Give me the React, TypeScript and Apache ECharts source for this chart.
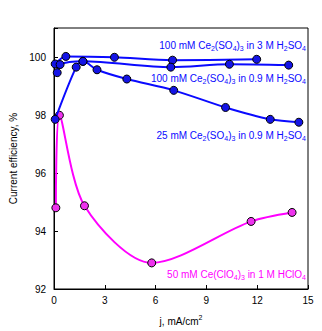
import React, { useEffect, useRef } from "react";
import * as echarts from "echarts";

const xTicks = [0, 3, 6, 9, 12, 15];
const yTicks = [92, 94, 96, 98, 100];

// 100 mM Ce2(SO4)3 in 3 M H2SO4
const s1X = [0.07, 0.7, 3.57, 7.0, 11.97];
const s1Y = [99.76, 100.02, 99.99, 99.89, 99.92];

// 100 mM Ce2(SO4)3 in 0.9 M H2SO4
const s2X = [0.19, 0.36, 1.71, 6.9, 10.36, 13.86];
const s2Y = [99.46, 99.74, 99.85, 99.65, 99.75, 99.72];

// 25 mM Ce2(SO4)3 in 0.9 M H2SO4
const s3X = [0.07, 1.31, 1.71, 2.54, 4.3, 7.07, 10.13, 12.77, 14.46];
const s3Y = [97.85, 99.65, 99.85, 99.56, 99.24, 98.85, 98.26, 97.85, 97.75];

// 50 mM Ce(ClO4)3 in 1 M HClO4
const s4X = [0.11, 0.32, 1.8, 5.77, 11.64, 14.06];
const s4Y = [94.8, 97.99, 94.87, 92.9, 94.33, 94.64];

const BLUE = "#0a0aff";
const PINK = "#ff00ff";
const FONT = "Liberation Sans, Arial, sans-serif";

const zip = (xs: number[], ys: number[]) => xs.map((x, i) => [x, ys[i]]);

export default function App() {
  const ref = useRef<HTMLDivElement>(null);
  useEffect(() => {
    document.body.style.margin = "0";
    const chart = echarts.init(ref.current!, null, { renderer: "svg" });
    const mkLine = (name: string, xs: number[], ys: number[], color: string, fill: string) => ({
      type: "line",
      name,
      data: zip(xs, ys),
      smooth: 0.3,
      symbol: "circle",
      symbolSize: 8,
      lineStyle: { color, width: 2 },
      itemStyle: { color: fill, borderColor: "#000", borderWidth: 1 },
      z: color === PINK ? 2 : 3,
    });
    const label = (y: number, text: string, color: string) => ({
      type: "text",
      right: 16,
      top: y,
      style: {
        text,
        fill: color,
        rich: {
          n: { fontSize: 10, lineHeight: 14, fontFamily: FONT, fill: color },
          s: { fontSize: 7, lineHeight: 14, verticalAlign: "bottom", fontFamily: FONT, fill: color },
        },
      },
      z: 10,
    });
    chart.setOption({
      animation: false,
      grid: { left: 42, right: 14, top: 28, bottom: 37, show: true, borderColor: "#000", borderWidth: 1 },
      xAxis: {
        type: "value",
        min: xTicks[0],
        max: xTicks[xTicks.length - 1],
        interval: 3,
        name: "{n|j, mA/cm}{sup|2}",
        nameLocation: "middle",
        nameGap: 25,
        nameTextStyle: {
          color: "#000",
          rich: {
            n: { fontSize: 10, fontFamily: FONT, color: "#000", lineHeight: 14 },
            sup: { fontSize: 7, fontFamily: FONT, color: "#000", verticalAlign: "top", lineHeight: 14 },
          },
        },
        axisLine: { lineStyle: { color: "#000", width: 1 } },
        axisTick: { inside: true, length: 4, lineStyle: { color: "#000" } },
        axisLabel: { color: "#000", fontSize: 10, fontFamily: FONT, margin: 6 },
        splitLine: { show: false },
      },
      yAxis: {
        type: "value",
        min: yTicks[0],
        max: 101,
        interval: 2,
        name: "Current efficiency, %",
        nameLocation: "middle",
        nameGap: 36,
        nameTextStyle: { color: "#000", fontSize: 10, fontFamily: FONT },
        axisLine: { lineStyle: { color: "#000", width: 1 } },
        axisTick: { inside: true, length: 4, lineStyle: { color: "#000" } },
        axisLabel: {
          color: "#000",
          fontSize: 10,
          fontFamily: FONT,
          margin: 8,
          formatter: (v: number) => (yTicks.includes(v) ? String(v) : ""),
        },
        splitLine: { show: false },
      },
      series: [
        mkLine("s1", s1X, s1Y, BLUE, "#1414e6"),
        mkLine("s2", s2X, s2Y, BLUE, "#1414e6"),
        mkLine("s3", s3X, s3Y, BLUE, "#1414e6"),
        mkLine("s4", s4X, s4Y, PINK, "#ee33ee"),
      ],
      graphic: [
        label(40, "{n|100 mM Ce}{s|2}{n|(SO}{s|4}{n|)}{s|3}{n| in 3 M H}{s|2}{n|SO}{s|4}", BLUE),
        label(73, "{n|100 mM Ce}{s|2}{n|(SO}{s|4}{n|)}{s|3}{n| in 0.9 M H}{s|2}{n|SO}{s|4}", BLUE),
        label(130, "{n|25 mM Ce}{s|2}{n|(SO}{s|4}{n|)}{s|3}{n| in 0.9 M H}{s|2}{n|SO}{s|4}", BLUE),
        label(269, "{n|50 mM Ce(ClO}{s|4}{n|)}{s|3}{n| in 1 M HClO}{s|4}", PINK),
      ],
    });
    return () => chart.dispose();
  }, []);
  return <div ref={ref} style={{ width: 322, height: 331 }} />;
}
